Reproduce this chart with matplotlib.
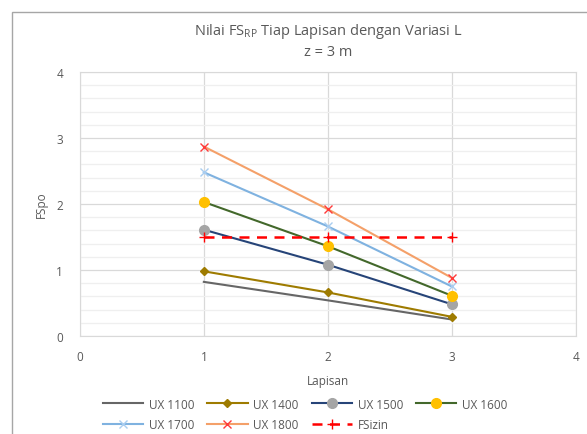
import matplotlib.pyplot as plt
from matplotlib.ticker import MultipleLocator
from matplotlib.patches import Rectangle

plt.rcParams['font.family'] = ['Open Sans', 'DejaVu Sans']

# data
lapisan = [1, 2, 3]
ux1100 = [0.82, 0.54, 0.25]
ux1400 = [0.98, 0.66, 0.29]
ux1500 = [1.61, 1.08, 0.48]
ux1600 = [2.03, 1.36, 0.61]
ux1700 = [2.48, 1.66, 0.75]
ux1800 = [2.87, 1.92, 0.88]
fsizin = [1.5, 1.5, 1.5]

txt = '#595959'

fig = plt.figure(figsize=(5.87, 4.35), dpi=100)
ax = fig.add_axes([0.136, 0.2253, 0.845, 0.607])

# border of the chart area
fig.patches.append(Rectangle((12 / 587, -0.02), 1.0, (435 - 12.5) / 435 + 0.02,
                             transform=fig.transFigure, fill=False,
                             edgecolor='#a6a6a6', lw=1.0))

h1, = ax.plot(lapisan, ux1100, color='#666666', lw=1.5, label='UX 1100')
h2, = ax.plot(lapisan, ux1400, color='#9e7b00', lw=1.5, marker='D', ms=4,
              label='UX 1400')
h3, = ax.plot(lapisan, ux1500, color='#264478', lw=1.5, marker='o', ms=7,
              mfc='#a5a5a5', mec='#a5a5a5', label='UX 1500')
h4, = ax.plot(lapisan, ux1600, color='#43682b', lw=1.5, marker='o', ms=7,
              mfc='#ffc000', mec='#ffc000', label='UX 1600')
h5, = ax.plot(lapisan, ux1700, color='#7fb2e0', lw=1.5, marker='x', ms=6,
              mec='#a9cdf0', label='UX 1700')
h6, = ax.plot(lapisan, ux1800, color='#f4a069', lw=1.5, marker='x', ms=6,
              mec='#ff3b3b', label='UX 1800')
h7, = ax.plot(lapisan, fsizin, color='#ff0000', lw=1.8, ls=(0, (4, 3)),
              marker='+', ms=7, label='FSizin')

ax.set_xlim(0, 4)
ax.set_ylim(0, 4)
ax.xaxis.set_major_locator(MultipleLocator(1))
ax.yaxis.set_major_locator(MultipleLocator(1))
ax.yaxis.set_minor_locator(MultipleLocator(0.2))
ax.grid(True, which='major', color='#d9d9d9', lw=0.9)
ax.grid(True, which='minor', axis='y', color='#efefef', lw=0.9)
ax.set_axisbelow(True)
ax.tick_params(which='both', length=0, colors=txt, labelsize=8.5)
ax.tick_params(axis='x', pad=10)
ax.tick_params(axis='y', pad=12)
for s in ax.spines.values():
    s.set_color('#d9d9d9')

ax.set_xlabel('Lapisan', color=txt, fontsize=8.5, labelpad=8)
ax.set_ylabel('FSpo', color=txt, fontsize=8.5, labelpad=6)
ax.set_title('Nilai FS$_{\\mathregular{RP}}$ Tiap Lapisan dengan Variasi L\nz = 3 m',
             color=txt, fontsize=10.5, pad=12, linespacing=1.4)

handles = [h1, h5, h2, h6, h3, h7, h4]
fig.legend(handles, [h.get_label() for h in handles], ncol=4,
           loc='center', bbox_to_anchor=(0.52, 0.045), frameon=False,
           fontsize=8.5, labelcolor=txt, handlelength=3.4, columnspacing=1.1,
           handletextpad=0.5, labelspacing=0.65)

fig.savefig('out.png', dpi=100)
